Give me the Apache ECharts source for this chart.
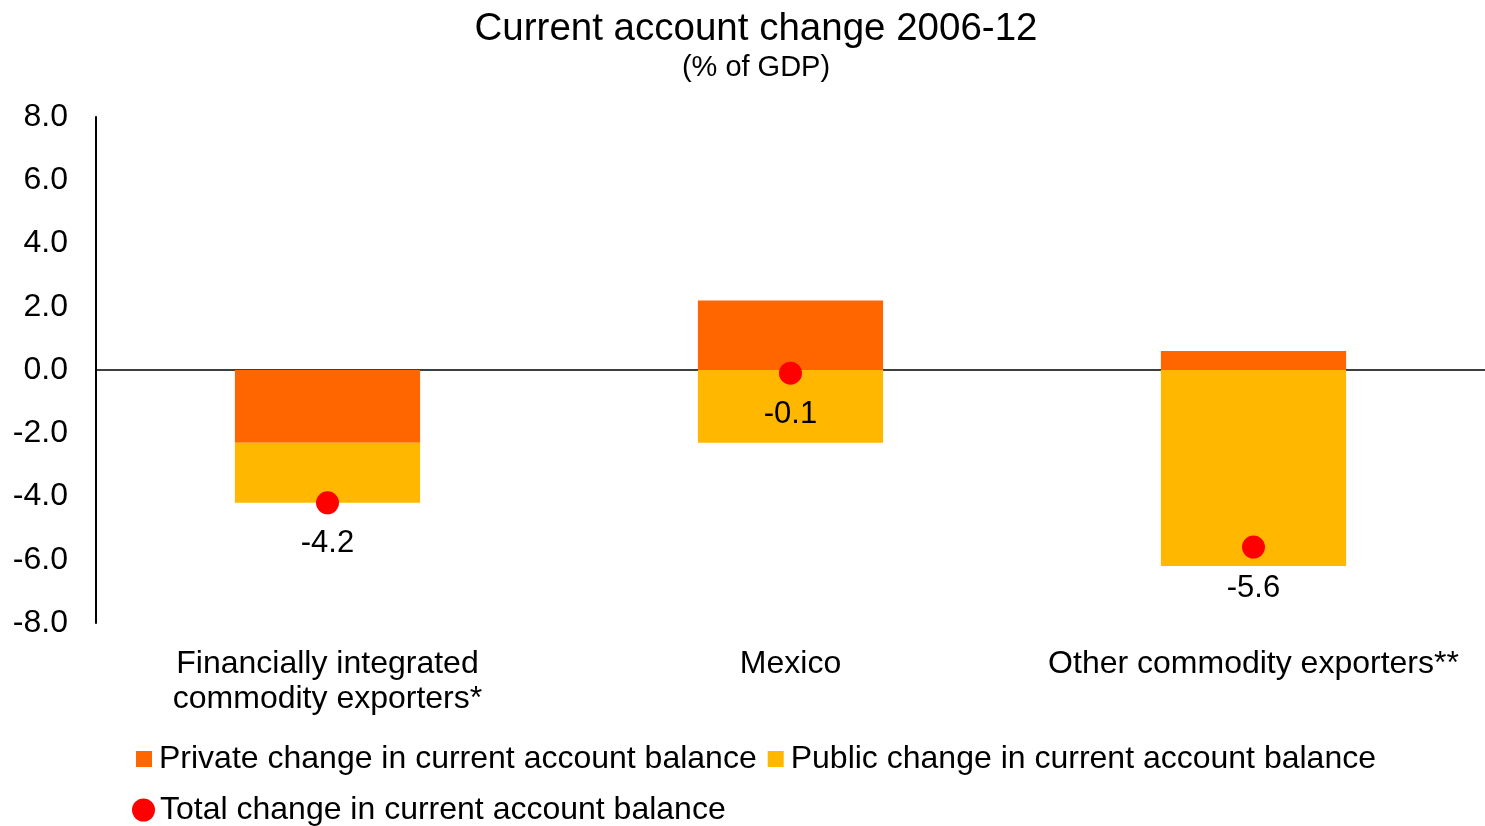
<!DOCTYPE html>
<html>
<head>
<meta charset="utf-8">
<title>Current account change 2006-12</title>
<script src="https://cdn.jsdelivr.net/npm/echarts@6/dist/echarts.min.js"></script>
<style>
  html, body { margin: 0; padding: 0; background: #ffffff; }
  #chart { width: 1485px; height: 826px; }
</style>
</head>
<body>
<div id="chart"></div>
<script>
// Country groups on the category axis
const categories = [
  'Financially integrated\ncommodity exporters*',
  'Mexico',
  'Other commodity exporters**'
];

// Change in current account balance, % of GDP
const privateChange = [-2.3, 2.2, 0.6];
const publicChange = [-1.9, -2.3, -6.2];
const totalChange = [-4.2, -0.1, -5.6];

// Value axis range and step
const yMin = -8;
const yMax = 8;
const yStep = 2;

const seriesNames = [
  'Private change in current account balance',
  'Public change in current account balance',
  'Total change in current account balance'
];

const FONT = '"Liberation Sans", Arial, sans-serif';

const chart = echarts.init(document.getElementById('chart'), null, { renderer: 'canvas' });

chart.setOption({
  backgroundColor: '#ffffff',
  animation: false,
  textStyle: { fontFamily: FONT, color: '#000000' },
  title: {
    text: 'Current account change 2006-12',
    subtext: '(% of GDP)',
    left: 751,
    textAlign: 'center',
    top: 5,
    itemGap: 4,
    textStyle: { fontFamily: FONT, fontSize: 38.5, fontWeight: 'normal', color: '#000000', lineHeight: 38 },
    subtextStyle: { fontFamily: FONT, fontSize: 29, color: '#000000', lineHeight: 29 }
  },
  legend: [
    {
      data: [seriesNames[0], seriesNames[1]],
      left: 131,
      top: 738,
      itemWidth: 16,
      itemHeight: 16,
      itemGap: 11,
      icon: 'rect',
      textStyle: { fontFamily: FONT, fontSize: 32, color: '#000000', padding: [0, 0, 0, 2] }
    },
    {
      data: [{ name: seriesNames[2], icon: 'circle' }],
      left: 127,
      top: 789,
      itemWidth: 23,
      itemHeight: 23,
      textStyle: { fontFamily: FONT, fontSize: 32, color: '#000000' }
    }
  ],
  grid: { left: 96, right: 0, top: 117, bottom: 203, containLabel: false },
  xAxis: {
    type: 'category',
    data: categories,
    axisLine: { onZero: true, lineStyle: { color: '#000000', width: 1.5 } },
    axisTick: { show: false },
    axisLabel: {
      fontFamily: FONT,
      fontSize: 32,
      lineHeight: 35,
      color: '#000000',
      margin: 24,
      interval: 0
    }
  },
  yAxis: {
    type: 'value',
    min: yMin,
    max: yMax,
    interval: yStep,
    splitLine: { show: false },
    axisTick: { show: false },
    axisLine: { show: true, lineStyle: { color: '#000000', width: 2 } },
    axisLabel: {
      fontFamily: FONT,
      fontSize: 32,
      color: '#000000',
      margin: 28,
      padding: [4, 0, 0, 0],
      formatter: v => v.toFixed(1)
    }
  },
  series: [
    {
      name: seriesNames[0],
      type: 'bar',
      stack: 'ca',
      barWidth: '40%',
      itemStyle: { color: '#FF6600' },
      data: privateChange
    },
    {
      name: seriesNames[1],
      type: 'bar',
      stack: 'ca',
      barWidth: '40%',
      itemStyle: { color: '#FFB700' },
      data: publicChange
    },
    {
      name: seriesNames[2],
      type: 'scatter',
      symbol: 'circle',
      symbolSize: 23,
      z: 5,
      itemStyle: { color: '#FF0000', opacity: 1 },
      label: {
        show: true,
        position: 'bottom',
        distance: 14,
        fontFamily: FONT,
        fontSize: 31,
        color: '#000000',
        formatter: p => p.value.toFixed(1)
      },
      data: totalChange
    }
  ]
});
</script>
</body>
</html>
